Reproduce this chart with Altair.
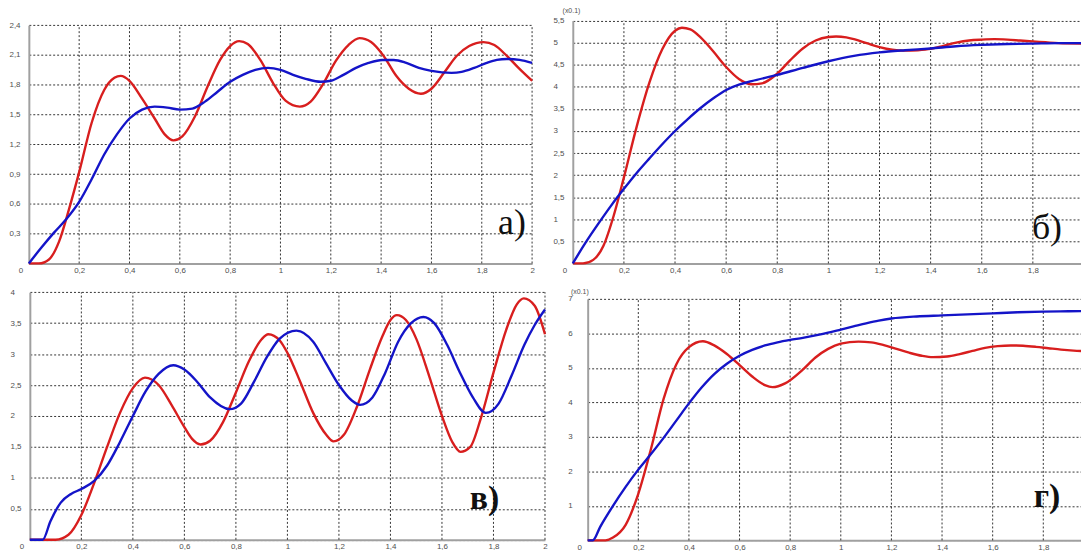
import altair as alt
import pandas as pd

# ---------------- data ----------------
X_TICKS = [0, 0.2, 0.4, 0.6, 0.8, 1, 1.2, 1.4, 1.6, 1.8, 2]
X_GRID = [0.2, 0.4, 0.6, 0.8, 1, 1.2, 1.4, 1.6, 1.8, 2]

# panel а)
a_y_ticks = [0, 0.3, 0.6, 0.9, 1.2, 1.5, 1.8, 2.1, 2.4]
a_red_x = [0, 0.04, 0.08, 0.12, 0.16, 0.2, 0.25, 0.3, 0.34, 0.365, 0.4, 0.45, 0.5, 0.54, 0.575,
           0.61, 0.66, 0.71, 0.76, 0.8, 0.836, 0.87, 0.92, 0.97, 1.02, 1.077, 1.12, 1.17, 1.22,
           1.27, 1.314, 1.36, 1.41, 1.46, 1.51, 1.558, 1.6, 1.65, 1.7, 1.75, 1.807, 1.85, 1.9,
           1.95, 2.0]
a_red_y = [0, 0, 0.04, 0.22, 0.55, 0.92, 1.42, 1.75, 1.87, 1.89, 1.84, 1.66, 1.46, 1.3, 1.24,
           1.28, 1.48, 1.78, 2.05, 2.19, 2.24, 2.21, 2.05, 1.82, 1.64, 1.58, 1.63, 1.81, 2.04,
           2.2, 2.27, 2.23, 2.09, 1.89, 1.76, 1.71, 1.76, 1.92, 2.09, 2.19, 2.23, 2.2, 2.09,
           1.96, 1.84]
a_blue_x = [0, 0.05, 0.1, 0.15, 0.2, 0.25, 0.3, 0.35, 0.4, 0.45, 0.5, 0.55, 0.6, 0.65, 0.7, 0.75,
            0.8, 0.85, 0.9, 0.95, 1.0, 1.05, 1.1, 1.16, 1.2, 1.25, 1.3, 1.35, 1.405, 1.45, 1.5,
            1.55, 1.6, 1.68, 1.72, 1.77, 1.82, 1.86, 1.9, 1.95, 2.0]
a_blue_y = [0, 0.16, 0.31, 0.45, 0.62, 0.85, 1.1, 1.3, 1.46, 1.55, 1.58, 1.57, 1.55, 1.56, 1.63,
            1.73, 1.83, 1.9, 1.95, 1.97, 1.95, 1.9, 1.86, 1.83, 1.84, 1.9, 1.97, 2.02, 2.05,
            2.05, 2.02, 1.97, 1.94, 1.92, 1.93, 1.97, 2.02, 2.05, 2.06, 2.05, 2.02]

# panel б)  (x0.1)
b_y_ticks = [0, 0.5, 1, 1.5, 2, 2.5, 3, 3.5, 4, 4.5, 5, 5.5]
b_red_x = [0, 0.04, 0.08, 0.12, 0.16, 0.2, 0.25, 0.3, 0.35, 0.4, 0.427, 0.46, 0.5, 0.55, 0.6,
           0.65, 0.7, 0.74, 0.8, 0.85, 0.9, 0.95, 1.0, 1.03, 1.07, 1.1, 1.15, 1.2, 1.25, 1.3,
           1.35, 1.4, 1.45, 1.5, 1.55, 1.6, 1.65, 1.7, 1.75, 1.8, 1.85, 1.9, 2.0]
b_red_y = [0, 0, 0.08, 0.4, 1.08, 1.95, 3.1, 4.1, 4.85, 5.27, 5.34, 5.3, 5.12, 4.8, 4.45, 4.18,
           4.06, 4.08, 4.3, 4.6, 4.87, 5.05, 5.13, 5.14, 5.12, 5.08, 4.99, 4.9, 4.84, 4.82, 4.83,
           4.86, 4.93, 5.0, 5.05, 5.07, 5.08, 5.07, 5.05, 5.03, 5.01, 4.99, 4.98]
b_blue_x = [0, 0.05, 0.1, 0.15, 0.2, 0.25, 0.3, 0.35, 0.4, 0.45, 0.5, 0.55, 0.6, 0.65, 0.7, 0.8,
            0.9, 1.0, 1.1, 1.2, 1.3, 1.4, 1.5, 1.6, 1.7, 1.8, 1.9, 2.0]
b_blue_y = [0, 0.47, 0.9, 1.31, 1.69, 2.05, 2.38, 2.7, 3.0, 3.27, 3.52, 3.74, 3.93, 4.05, 4.13,
            4.27, 4.43, 4.58, 4.7, 4.78, 4.83, 4.87, 4.92, 4.95, 4.97, 4.98, 4.99, 4.99]

# panel в)
c_y_ticks = [0, 0.5, 1, 1.5, 2, 2.5, 3, 3.5, 4]
c_red_x = [0, 0.1, 0.15, 0.2, 0.25, 0.3, 0.35, 0.4, 0.447, 0.5, 0.55, 0.6, 0.63, 0.663, 0.7,
           0.75, 0.8, 0.85, 0.9, 0.926, 0.97, 1.0, 1.05, 1.1, 1.15, 1.179, 1.22, 1.27, 1.32,
           1.37, 1.4, 1.425, 1.46, 1.5, 1.55, 1.6, 1.64, 1.672, 1.71, 1.75, 1.8, 1.85, 1.89,
           1.918, 1.96, 2.0]
c_red_y = [0, 0, 0.08, 0.4, 0.92, 1.5, 2.05, 2.45, 2.62, 2.5, 2.18, 1.82, 1.63, 1.54, 1.6,
           1.9, 2.38, 2.88, 3.24, 3.32, 3.22, 3.02, 2.55, 2.05, 1.7, 1.59, 1.7, 2.15, 2.75,
           3.3, 3.55, 3.63, 3.55, 3.25, 2.65, 2.0, 1.58, 1.42, 1.5, 1.95, 2.7, 3.4, 3.8, 3.9,
           3.78, 3.32]
c_blue_x = [0, 0.05, 0.08, 0.12, 0.16, 0.2, 0.25, 0.3, 0.35, 0.4, 0.45, 0.5, 0.557, 0.6, 0.65,
            0.7, 0.776, 0.82, 0.87, 0.92, 0.97, 1.035, 1.1, 1.15, 1.2, 1.25, 1.282, 1.33, 1.38,
            1.43, 1.48, 1.528, 1.57, 1.62, 1.67, 1.72, 1.77, 1.82, 1.87, 1.92, 1.96, 2.0]
c_blue_y = [0, 0, 0.3, 0.6, 0.74, 0.82, 0.95, 1.2, 1.58, 2.0, 2.4, 2.68, 2.82, 2.75, 2.55,
            2.3, 2.11, 2.2, 2.55, 2.95, 3.25, 3.38, 3.2, 2.85, 2.5, 2.25, 2.18, 2.3, 2.7, 3.2,
            3.5, 3.6, 3.5, 3.15, 2.7, 2.3, 2.05, 2.2, 2.65, 3.15, 3.47, 3.72]

# panel г)  (x0.1)
d_y_ticks = [0, 1, 2, 3, 4, 5, 6, 7]
d_red_x = [0, 0.07, 0.1, 0.15, 0.2, 0.25, 0.3, 0.35, 0.4, 0.455, 0.5, 0.55, 0.6, 0.65, 0.7,
           0.73, 0.78, 0.85, 0.9, 0.95, 1.0, 1.07, 1.12, 1.17, 1.22, 1.27, 1.32, 1.364, 1.42,
           1.47, 1.52, 1.57, 1.62, 1.671, 1.72, 1.77, 1.82, 1.87, 1.92, 1.97, 2.0]
d_red_y = [0, 0, 0.08, 0.45, 1.35, 2.65, 4.1, 5.1, 5.6, 5.77, 5.65, 5.4, 5.08, 4.75, 4.5, 4.44,
           4.55, 4.95, 5.3, 5.55, 5.7, 5.76, 5.74, 5.66, 5.55, 5.44, 5.35, 5.31, 5.33, 5.4, 5.49,
           5.58, 5.63, 5.65, 5.64, 5.61, 5.57, 5.53, 5.5, 5.48, 5.47]
d_blue_x = [0, 0.02, 0.05, 0.1, 0.15, 0.2, 0.25, 0.3, 0.35, 0.4, 0.45, 0.5, 0.55, 0.6, 0.65,
            0.7, 0.75, 0.8, 0.85, 0.9, 0.95, 1.0, 1.05, 1.1, 1.15, 1.2, 1.3, 1.4, 1.5, 1.6, 1.7,
            1.8, 1.9, 2.0]
d_blue_y = [0, 0, 0.4, 1.0, 1.55, 2.05, 2.5, 2.97, 3.47, 3.97, 4.43, 4.82, 5.12, 5.35, 5.52,
            5.65, 5.74, 5.81, 5.87, 5.94, 6.02, 6.11, 6.2, 6.29, 6.37, 6.43, 6.49, 6.52, 6.55,
            6.58, 6.61, 6.63, 6.64, 6.65]

letters = ["а)", "б)", "в)", "г)"]
letter_x = [1.92, 1.855, 1.765, 1.815]
letter_y = [0.30, 0.55, 0.50, 0.97]
scale_note = "(x0.1)"

# ---------------- layout / style ----------------
W, H = 1081, 544
RED = "#d81e1e"
BLUE = "#1414c8"
GRID = "#1e1e1e"
AXIS = "#a0a0a0"
LABEL = "#505050"
FONT = "Liberation Sans"

LABEL_EXPR = "datum.value == 0 ? '' : replace(format(datum.value, '~g'), '.', ',')"
XLABEL_EXPR = "replace(format(datum.value, '~g'), '.', ',')"


def make_panel(xr, yr, ydom, yticks, red, blue, k, bold, note_xy=None):
    xs = alt.Scale(domain=[0, 2], range=xr, nice=False, zero=False)
    ys = alt.Scale(domain=ydom, range=yr, nice=False, zero=False)
    xaxis = alt.Axis(values=X_TICKS, orient="bottom", offset=yr[0] - H, grid=False,
                     ticks=False, domainColor=AXIS, domainWidth=2, labelPadding=3,
                     labelFontSize=8, labelColor=LABEL, labelFont=FONT, labelFlush=False,
                     labelOverlap=False, labelExpr=XLABEL_EXPR,
                     labelOffset={"condition": {"test": "datum.value == 0", "value": -8.5},
                                  "value": 0})
    yaxis = alt.Axis(values=yticks, orient="left", offset=-xr[0], grid=True,
                     gridDash=[2, 2], gridColor=GRID, gridOpacity=0.9, gridWidth=1,
                     ticks=False, domainColor=AXIS, domainWidth=2, labelPadding=20,
                     labelAlign="left", labelFontSize=8, labelColor=LABEL, labelFont=FONT,
                     labelOverlap=False, labelExpr=LABEL_EXPR)
    enc = dict(x=alt.X("x:Q", scale=xs, axis=xaxis, title=None),
               y=alt.Y("y:Q", scale=ys, axis=yaxis, title=None))
    layers = []
    # vertical grid lines at the x ticks, spanning the panel's y domain
    gdf = pd.DataFrame({"x": X_GRID, "y": [ydom[0]] * len(X_GRID), "y2": [ydom[1]] * len(X_GRID)})
    layers.append(alt.Chart(gdf).mark_rule(color=GRID, opacity=0.9, strokeWidth=1,
                                           strokeDash=[2, 2])
                  .encode(y2="y2:Q", **enc))
    for (xx, yy), col in ((red, RED), (blue, BLUE)):
        df = pd.DataFrame({"x": xx, "y": yy})
        layers.append(alt.Chart(df).mark_line(color=col, strokeWidth=2.4,
                                              interpolate="monotone").encode(**enc))
    tdf = pd.DataFrame({"x": [letter_x[k]], "y": [letter_y[k]], "t": [letters[k]]})
    layers.append(alt.Chart(tdf).mark_text(font="Liberation Serif", fontSize=36 if not bold else 34,
                                           fontWeight="bold" if bold else "normal",
                                           align="center", baseline="alphabetic",
                                           color="#111111").encode(text="t:N", **enc))
    if note_xy is not None:
        ndf = pd.DataFrame({"x": [note_xy[0]], "y": [note_xy[1]], "t": [scale_note]})
        layers.append(alt.Chart(ndf).mark_text(font=FONT, fontSize=7, align="left",
                                               baseline="middle", color=LABEL)
                      .encode(text="t:N", **enc))
    return alt.layer(*layers)


pa = make_panel([21, 528], [255.3, 15.3], [0, 2.4], a_y_ticks,
                (a_red_x, a_red_y), (a_blue_x, a_blue_y), 0, False)
pb = make_panel([569, 1084], [255.3, 10.7], [0, 5.5], b_y_ticks,
                (b_red_x, b_red_y), (b_blue_x, b_blue_y), 1, False, (-0.04, 5.72))
pc = make_panel([22, 541], [533.7, 284.3], [0, 4], c_y_ticks,
                (c_red_x, c_red_y), (c_blue_x, c_blue_y), 2, True)
pd_ = make_panel([584, 1094], [534.3, 291], [0, 7], d_y_ticks,
                 (d_red_x, d_red_y), (d_blue_x, d_blue_y), 3, True, (-0.066, 7.2))

chart = (alt.layer(pa, pb, pc, pd_)
         .resolve_scale(x="independent", y="independent")
         .properties(width=W, height=H, autosize=alt.AutoSizeParams(type="none"), padding=0,
                     background="white")
         .configure_view(strokeWidth=0))

chart.save("out.html", embed_options={"renderer": "svg", "actions": False})
